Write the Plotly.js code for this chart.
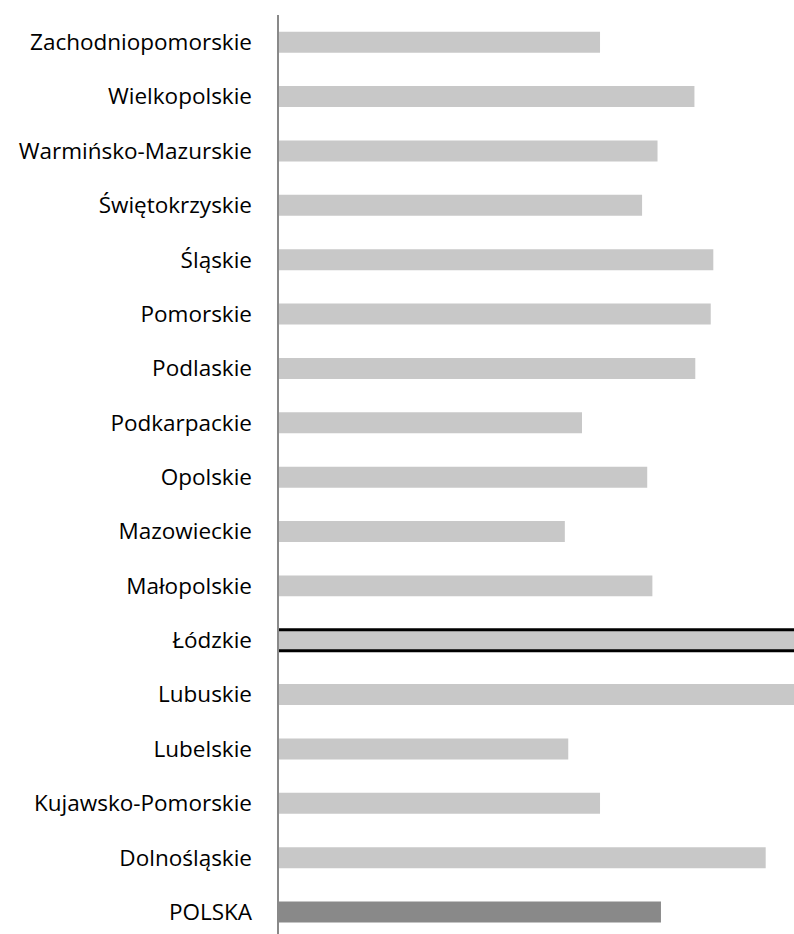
<!DOCTYPE html>
<html>
<head>
<meta charset="utf-8">
<script src="https://cdn.plot.ly/plotly-3.0.1.min.js"></script>
<style>
  html, body { margin: 0; padding: 0; background: #ffffff; }
  #chart { width: 794px; height: 934px; }
</style>
</head>
<body>
<div id="chart"></div>
<script>
// Regions, bottom to top as drawn
const regions = [
  "POLSKA",
  "Dolnośląskie",
  "Kujawsko-Pomorskie",
  "Lubelskie",
  "Lubuskie",
  "Łódzkie",
  "Małopolskie",
  "Mazowieckie",
  "Opolskie",
  "Podkarpackie",
  "Podlaskie",
  "Pomorskie",
  "Śląskie",
  "Świętokrzyskie",
  "Warmińsko-Mazurskie",
  "Wielkopolskie",
  "Zachodniopomorskie"
];
// Values (arbitrary units, axis range 0-60)
const values = [
  44.5,
  56.7,
  37.4,
  33.7,
  61.0,
  66.0,
  43.5,
  33.3,
  42.9,
  35.3,
  48.5,
  50.3,
  50.6,
  42.3,
  44.1,
  48.4,
  37.4
];
const highlighted = "Łódzkie";
const national = "POLSKA";

const barColors = regions.map(r => r === national ? "#898989" : "#c8c8c8");
const lineWidths = regions.map(r => r === highlighted ? 3 : 0);
// start the highlighted bar just left of the axis so its left outline is clipped away
const bases = regions.map(r => r === highlighted ? -0.5 : 0);

const trace = {
  type: "bar",
  orientation: "h",
  y: regions,
  x: values,
  base: bases,
  marker: {
    color: barColors,
    line: { color: "#000000", width: lineWidths }
  },
  hoverinfo: "none"
};

const layout = {
  width: 794,
  height: 934,
  margin: { l: 279, r: 0, t: 15, b: 0, pad: 0 },
  paper_bgcolor: "#ffffff",
  plot_bgcolor: "#ffffff",
  showlegend: false,
  bargap: 0.614,
  font: { family: "Open Sans, sans-serif", size: 22.5, color: "#000000" },
  xaxis: {
    range: [0, 60],
    visible: false,
    showgrid: false,
    zeroline: false
  },
  yaxis: {
    type: "category",
    range: [-0.403, 16.5],
    showline: true,
    linecolor: "#898989",
    linewidth: 2.5,
    ticks: "",
    showgrid: false,
    zeroline: false,
    ticklabelstandoff: 20,
    tickfont: { family: "Open Sans, sans-serif", size: 22.5, color: "#000000" },
    automargin: false
  }
};

Plotly.newPlot("chart", [trace], layout, { displayModeBar: false, staticPlot: true });
</script>
</body>
</html>
